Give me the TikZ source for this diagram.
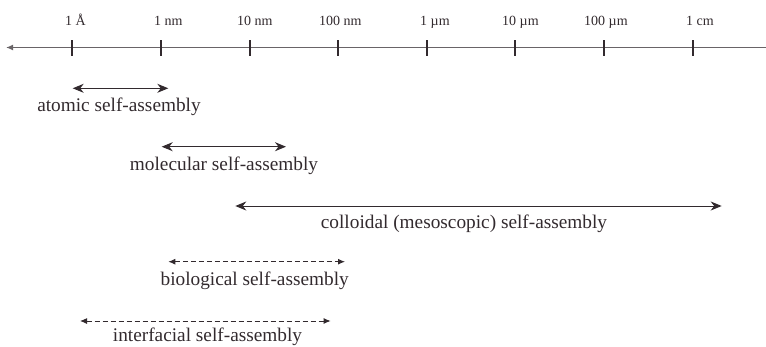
\documentclass[tikz,border=0pt]{standalone}
\usepackage{fontspec}
\setmainfont{Liberation Serif}
\usetikzlibrary{arrows.meta, calc, positioning}
\definecolor{axisgrey}{RGB}{105,100,103}
\definecolor{inkdark}{RGB}{50,42,46}

\begin{document}
\begin{tikzpicture}[x=1pt, y=-1pt]%{{{
        \useasboundingbox (0,0) rectangle (766,346);

        \coordinate (A) at (6, 47.5);
        \coordinate (Z) at (766, 47.5);

        \tikzstyle{tick} = [draw=inkdark, line width=2pt];
        \tikzstyle{scalelabel} = [font=\fontsize{14}{16}\selectfont, text=inkdark, inner sep=0pt, anchor=base west];
        \tikzstyle{sizerange} = [draw=inkdark, line width=1pt, {Stealth[length=11pt, width=9pt, inset=3.5pt]}-{Stealth[length=11pt, width=9pt, inset=3.5pt]}];
        \tikzstyle{sizemaybe} = [draw=inkdark, line width=1pt, dash pattern=on 5pt off 3pt, {Latex[length=7pt, width=6pt]}-{Latex[length=7pt, width=6pt]}];
        \tikzstyle{rangelabel} = [font=\fontsize{19.3}{22}\selectfont, text=inkdark, inner sep=0pt, anchor=base];

        % the length scale
        \draw [axisgrey, line width=1.5pt, -{Latex[length=7pt, width=6pt]}] (Z) -- (A);

        \foreach \n/\lab/\lx in {0/1 Å/65, 1/1 nm/154, 2/10 nm/237, 3/100 nm/319,
                                 4/1 µm/420, 5/10 µm/502, 6/100 µm/584, 7/1 cm/686}{
            \coordinate (T\n) at ($(72.3, 47.5) + (\n*88.62, 0)$);
            \coordinate (T\n a) at ($(T\n) + (0, -7.5)$);
            \coordinate (T\n b) at ($(T\n) + (0,  8)$);
            \draw [tick] (T\n a) -- (T\n b);
            \node [scalelabel] (S\n) at (\lx, 25) {\lab};
        }

        % the ranges
        \coordinate (atom1) at (72.7, 88.3);  \coordinate (atom2) at (168.3, 88.3);
        \coordinate (mol1)  at (161.7, 146.7); \coordinate (mol2)  at (286, 146.7);
        \coordinate (col1)  at (235.3, 206);  \coordinate (col2)  at (721.7, 206);
        \coordinate (bio1)  at (168.3, 261.7); \coordinate (bio2)  at (345, 261.7);
        \coordinate (int1)  at (80, 321);     \coordinate (int2)  at (330.7, 321);

        \draw [sizerange] (atom1) -- (atom2);
        \draw [sizerange] (mol1) -- (mol2);
        \draw [sizerange] (col1) -- (col2);
        \draw [sizemaybe] (bio1) -- (bio2);
        \draw [sizemaybe] (int1) -- (int2);

        \node [rangelabel] (atomL) at (119, 111.5) {atomic self-assembly};
        \node [rangelabel] (molL)  at (224, 170) {molecular self-assembly};
        \node [rangelabel] (colL)  at (464, 228.5) {colloidal (mesoscopic) self-assembly};
        \node [rangelabel] (bioL)  at (254.7, 285) {biological self-assembly};
        \node [rangelabel] (intL)  at (207.5, 341) {interfacial self-assembly};
    \end{tikzpicture}
\end{document}
